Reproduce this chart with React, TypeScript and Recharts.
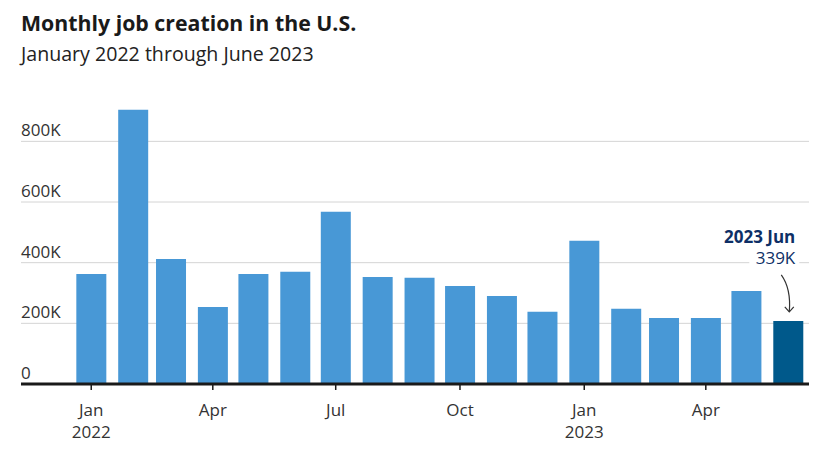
import { BarChart, Bar, XAxis, YAxis, CartesianGrid, Cell, LabelList } from 'recharts';

const MONTHS = [
  '2022-01', '2022-02', '2022-03', '2022-04', '2022-05', '2022-06',
  '2022-07', '2022-08', '2022-09', '2022-10', '2022-11', '2022-12',
  '2023-01', '2023-02', '2023-03', '2023-04', '2023-05', '2023-06',
];
// thousands of jobs
const JOBS = [363, 904, 412, 254, 363, 370, 568, 353, 350, 323, 290, 238, 472, 248, 218, 218, 307, 208];

const Y_TICKS = [0, 200, 400, 600, 800];
const X_TICK_MONTHS = ['2022-01', '2022-04', '2022-07', '2022-10', '2023-01', '2023-04'];
const MONTH_NAMES = ['Jan', 'Feb', 'Mar', 'Apr', 'May', 'Jun', 'Jul', 'Aug', 'Sep', 'Oct', 'Nov', 'Dec'];

const LAST_LABEL = '2023 Jun';
const LAST_VALUE_TEXT = '339K';

const BASE = Date.UTC(2022, 0, 1);
const toDay = (m: string) => {
  const [y, mo] = m.split('-').map(Number);
  return Math.round((Date.UTC(y, mo - 1, 1) - BASE) / 86400000);
};

const data = MONTHS.map((m, i) => ({ month: m, day: toDay(m), jobs: JOBS[i] }));
const xTicks = X_TICK_MONTHS.map(toDay);

const FONT = '"Open Sans", Lato, sans-serif';
const LIGHT = '#4898d6';
const DARK = '#00598b';
const NAVY = '#0e2f66';

const XTick = ({ x, y, payload }: any) => {
  const d = new Date(BASE + payload.value * 86400000);
  const mon = MONTH_NAMES[d.getUTCMonth()];
  const showYear = d.getUTCMonth() === 0;
  return (
    <g transform={`translate(${x},${y})`}>
      <text textAnchor="middle" y={24} fill="#333" fontSize={17} fontFamily={FONT}>{mon}</text>
      {showYear && (
        <text textAnchor="middle" y={46} fill="#333" fontSize={17} fontFamily={FONT}>{d.getUTCFullYear()}</text>
      )}
    </g>
  );
};

const YTick = ({ x, y, payload }: any) => (
  <text x={x} y={y - 5} textAnchor="start" fill="#333" fontSize={17} fontFamily={FONT}>
    {payload.value === 0 ? '0' : `${payload.value}K`}
  </text>
);

const LastAnnotation = (props: any) => {
  const { x, y, width, index } = props;
  if (index !== data.length - 1) return null;
  const right = x + width - 8;
  const sx = x + 8;
  const sy = y - 46;
  const tx = x + 16;
  const ty = y - 9;
  return (
    <g>
      <text x={right} y={y - 78} textAnchor="end" fill={NAVY} fontSize={17} fontWeight={700} fontFamily={FONT}>
        {LAST_LABEL}
      </text>
      <rect x={right - 46} y={y - 73} width={50} height={21} fill="#fff" />
      <text x={right} y={y - 57} textAnchor="end" fill={NAVY} fontSize={17} fontFamily={FONT}>
        {LAST_VALUE_TEXT}
      </text>
      <path d={`M${sx},${sy} Q${x + 18},${y - 32} ${tx},${ty}`} fill="none" stroke="#333" strokeWidth={1.2} />
      <path d={`M${tx - 4.5},${ty - 5} L${tx},${ty} L${tx + 4.5},${ty - 5}`} fill="none" stroke="#333" strokeWidth={1.2} />
    </g>
  );
};

export default function App() {
  return (
    <div style={{ position: 'absolute', left: 0, top: 0, width: 821, height: 452, background: '#fff', fontFamily: FONT }}>
      <div style={{ position: 'absolute', left: 21, top: 8, fontSize: 21.3, fontWeight: 700, color: '#1a1a1a' }}>
        Monthly job creation in the U.S.
      </div>
      <div style={{ position: 'absolute', left: 21, top: 40, fontSize: 19.6, color: '#222' }}>
        January 2022 through June 2023
      </div>
      <div style={{ position: 'absolute', left: 0, top: 0 }}>
        <BarChart width={821} height={452} data={data} margin={{ top: 108, right: 12, bottom: 0, left: 0 }}>
          <CartesianGrid vertical={false} stroke="#d4d4d4" horizontalValues={Y_TICKS} />
          <XAxis
            type="number"
            dataKey="day"
            domain={[-52, 531.4]}
            ticks={xTicks}
            tick={<XTick />}
            height={68}
            axisLine={{ stroke: '#1a1a1a', strokeWidth: 3 }}
            tickLine={{ stroke: '#1a1a1a', strokeWidth: 1.5 }}
            tickSize={6}
            interval={0}
            allowDataOverflow
          />
          <YAxis
            domain={[0, 910]}
            ticks={Y_TICKS}
            width={21}
            axisLine={false}
            tickLine={false}
            tickSize={0}
            tickMargin={0}
            tick={<YTick />}
            interval={0}
          />
          <Bar dataKey="jobs" barSize={30} isAnimationActive={false}>
            {data.map((d, i) => (
              <Cell key={d.month} fill={i === data.length - 1 ? DARK : LIGHT} />
            ))}
            <LabelList dataKey="jobs" content={<LastAnnotation />} />
          </Bar>
        </BarChart>
      </div>
    </div>
  );
}
